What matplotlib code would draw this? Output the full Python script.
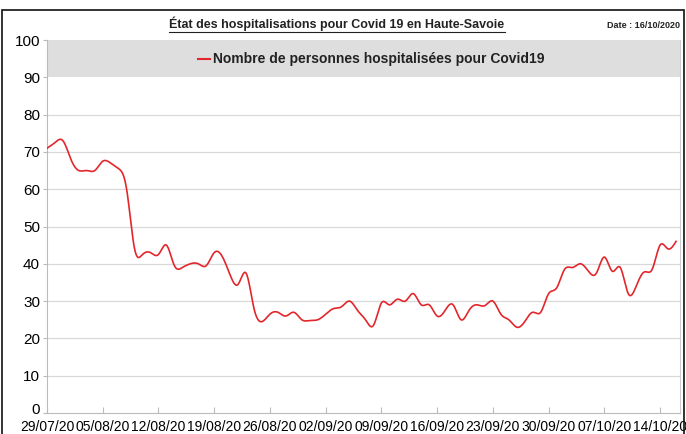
#!/usr/bin/env python3
"""Hospitalisations Covid 19 Haute-Savoie — smoothed daily line."""

import numpy as np
import matplotlib
matplotlib.use('Agg')
import matplotlib.pyplot as plt
import matplotlib.transforms as mtransforms
from matplotlib.patches import Rectangle
from matplotlib.lines import Line2D

plt.rcParams['font.family'] = ['Liberation Sans', 'DejaVu Sans']

RED = '#e3262b'
GRID = '#d9d9d9'
BAND = '#dedede'

# daily values, 29/07/20 -> 16/10/20
hospitalises = [
    71, 72.5, 73, 68, 65, 65, 65, 67.5, 67, 65.5,
    60, 44, 42.5, 43, 42.5, 45, 39.5, 39, 40, 40,
    39.5, 43, 42, 37, 34.5, 37.5, 28, 24.5, 26.5, 27,
    26, 27, 25, 24.8, 25, 26.5, 28, 28.5, 30, 27.5,
    25, 23.5, 29.5, 29, 30.5, 30, 32, 29, 29, 26,
    27.5, 29, 25, 27.5, 29, 28.8, 30, 26.5, 25, 23,
    24.5, 27, 27, 32, 33.5, 38.5, 39, 40, 38, 37.5,
    41.8, 38, 39, 32, 34, 37.8, 38.5, 45, 44, 46,
]
tick_labels = ['29/07/20', '05/08/20', '12/08/20', '19/08/20', '26/08/20', '02/09/20',
               '09/09/20', '16/09/20', '23/09/20', '30/09/20', '07/10/20', '14/10/20']
yticks = [0, 10, 20, 30, 40, 50, 60, 70, 80, 90, 100]

days = np.arange(len(hospitalises), dtype=float)
vals = np.array(hospitalises, dtype=float)


def natural_spline(x, y, xs):
    # natural cubic spline, solved directly
    n = len(x)
    h = np.diff(x)
    A = np.zeros((n, n))
    b = np.zeros(n)
    A[0, 0] = A[-1, -1] = 1
    for i in range(1, n - 1):
        A[i, i - 1] = h[i - 1]
        A[i, i] = 2 * (h[i - 1] + h[i])
        A[i, i + 1] = h[i]
        b[i] = 3 * ((y[i + 1] - y[i]) / h[i] - (y[i] - y[i - 1]) / h[i - 1])
    c = np.linalg.solve(A, b)
    idx = np.clip(np.searchsorted(x, xs) - 1, 0, n - 2)
    dx = xs - x[idx]
    bb = (y[idx + 1] - y[idx]) / h[idx] - h[idx] * (2 * c[idx] + c[idx + 1]) / 3
    dd = (c[idx + 1] - c[idx]) / (3 * h[idx])
    return y[idx] + bb * dx + c[idx] * dx ** 2 + dd * dx ** 3


xs = np.linspace(days[0], days[-1], 1200)
ys = natural_spline(days, vals, xs)

W, H = 686, 434
fig = plt.figure(figsize=(W / 100, H / 100), dpi=100, facecolor='white')
ax = fig.add_axes([47 / W, 1 - 413 / H, (680 - 47) / W, (413 - 40) / H])

ax.axhspan(90, 100, color=BAND, zorder=0, lw=0)
for v in yticks[1:-2]:
    ax.axhline(v, color=GRID, lw=0.9, zorder=1)
ax.plot(xs, ys, color=RED, lw=1.2, zorder=3)

ax.set_xlim(0, days[-1] + 0.5)
ax.set_ylim(0, 100)
ax.set_yticks(yticks)
ax.set_yticklabels([str(v) for v in yticks], fontsize=11)
ax.set_xticks(np.arange(0, len(hospitalises), 7))
ax.set_xticklabels(tick_labels, fontsize=10)
ax.tick_params(axis='x', direction='in', length=4, color='#bbbbbb', pad=5)
ax.tick_params(axis='y', direction='out', length=3, color='#bbbbbb', pad=2)
ax.spines['top'].set_visible(False)
ax.spines['left'].set_color('#bbbbbb')
ax.spines['bottom'].set_color('#bbbbbb')
ax.spines['right'].set_color('#cccccc')

# lift the "0" label a bit so it clears the first date
zero = ax.get_yticklabels()[0]
zero.set_transform(zero.get_transform() + mtransforms.ScaledTranslation(0, 4 / 100, fig.dpi_scale_trans))

# legend inside the grey band
ax.add_line(Line2D([0.239, 0.258], [0.95, 0.95], transform=ax.transAxes, color=RED, lw=1.5))
ax.text(0.262, 0.95, 'Nombre de personnes hospitalisées pour Covid19', transform=ax.transAxes,
        ha='left', va='center', fontsize=10, fontweight='bold', color='#222222')

# title, underlined
t = fig.text(337 / W, 1 - 24 / H, 'État des hospitalisations pour Covid 19 en Haute-Savoie',
             ha='center', va='center', fontsize=9, fontweight='bold', color='#222222')
fig.canvas.draw()
bb = t.get_window_extent().transformed(fig.transFigure.inverted())
fig.add_artist(Line2D([bb.x0, bb.x1], [bb.y0 - 0.002, bb.y0 - 0.002], transform=fig.transFigure,
                      color='#222222', lw=0.8))
fig.text(680 / W, 1 - 26 / H, 'Date : 16/10/2020', ha='right', va='center',
         fontsize=6.5, fontweight='bold', color='#222222')

# outer frame
fig.add_artist(Rectangle((2 / W, -0.01), (684 - 2) / W, 1 - 10 / H + 0.01, transform=fig.transFigure,
                         fill=False, edgecolor='#111111', lw=1.2))

plt.savefig('out.png', dpi=100, facecolor='white')
print('Saved out.png')
